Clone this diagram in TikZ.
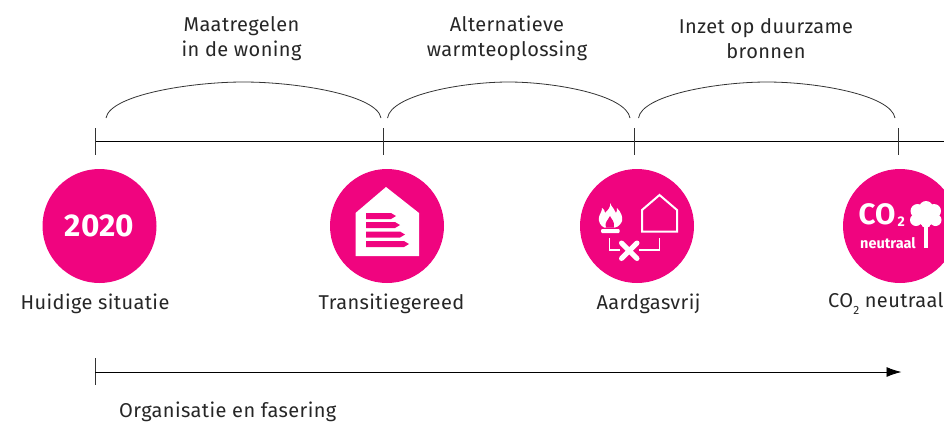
\documentclass[tikz,border=0pt]{standalone}
\usepackage{fontspec}
\setmainfont{Fira Sans}
\usetikzlibrary{arrows.meta}
\definecolor{roze}{HTML}{F0047F}
\tikzset{
  mijlpaal/.style={circle,fill=roze,minimum size=114pt,inner sep=0pt},
  tekst/.style={font=\fontsize{20}{25.5}\selectfont\addfontfeature{LetterSpace=2},text=black!85,align=center,inner sep=0pt},
  boog/.style={draw=black!80,line width=0.8pt},
  lijn/.style={draw=black,line width=0.9pt},
  icoon/.style={draw=white,line width=2pt},
}
\begin{document}
\begin{tikzpicture}[x=1pt,y=-1pt]
\useasboundingbox (0,0) rectangle (944,421);
\clip (0,0) rectangle (944,421);
% tijdlijn
\coordinate (t0a) at (95,128);
\coordinate (t0b) at (95,155);
\coordinate (t1a) at (383.5,128);
\coordinate (t1b) at (383.5,155);
\coordinate (t2a) at (634,128);
\coordinate (t2b) at (634,155);
\coordinate (t3a) at (898.5,128);
\coordinate (t3b) at (898.5,155);
\coordinate (t0) at (95,141);
\coordinate (teind) at (944,141);
\draw[lijn] (t0) -- (teind);
\draw[boog] (t0a) -- (t0b);
\draw[boog] (t1a) -- (t1b);
\draw[boog] (t2a) -- (t2b);
\draw[boog] (t3a) -- (t3b);
% bogen
\coordinate (b1a) at (106,118);
\coordinate (b1b) at (381,118);
\coordinate (b2a) at (387.5,118);
\coordinate (b2b) at (630,118);
\coordinate (b3a) at (638.5,118);
\coordinate (b3b) at (895,118);
\draw[boog] (b1a) .. controls (110,95) and (190,82) .. (243.5,82) .. controls (297,82) and (377,95) .. (b1b);
\draw[boog] (b2a) .. controls (391,95) and (462,82) .. (508.5,82) .. controls (555,82) and (626,95) .. (b2b);
\draw[boog] (b3a) .. controls (642,95) and (717,82) .. (767,82) .. controls (817,82) and (891,95) .. (b3b);
\node[tekst] (maatregelen) at (241.5,38.5) {Maatregelen\\in de woning};
\node[tekst] (warmte) at (507,38.5) {Alternatieve\\warmteoplossing};
\node[tekst] (inzet) at (766,38.5) {Inzet op duurzame\\bronnen};
% cirkels
\node[mijlpaal] (c2020) at (99.5,226) {};
\node[mijlpaal] (ctrans) at (387,226) {};
\node[mijlpaal] (cgas) at (637,226) {};
\node[mijlpaal] (cco) at (900,226) {};
\node[font=\fontsize{31.5}{31.5}\selectfont\bfseries,text=white,inner sep=0pt] (jaar) at (99.5,226) {2020};
% woning met labels
\fill[white] (386,187) -- (419,213) -- (419,256) -- (355.5,256) -- (355.5,213) -- cycle;
\fill[roze] (366,213) -- (391,213) -- (396,216) -- (391,219) -- (366,219) -- cycle;
\fill[roze] (366,222) -- (395,222) -- (400,225) -- (395,228) -- (366,228) -- cycle;
\fill[roze] (366,231.5) -- (400,231.5) -- (405,234.5) -- (400,237.5) -- (366,237.5) -- cycle;
\fill[roze] (366,241) -- (404,241) -- (409,244) -- (404,247) -- (366,247) -- cycle;
% aardgas
\draw[icoon] (642,231.5) -- (642,210) -- (659.5,195) -- (677,210) -- (677,231.5) -- cycle;
\fill[white] (610,203) .. controls (612,208) and (615,209) .. (616,213) .. controls (617,212) and (617,210) .. (617,208) .. controls (621,212) and (623,217) .. (622,221) .. controls (621,224) and (618,227) .. (615,227.5) -- (604,227.5) .. controls (601,226) and (598,222) .. (599,217) .. controls (600,213) and (602,212) .. (602,208) .. controls (604,209) and (605,211) .. (605,213) .. controls (608,210) and (611,207) .. (610,203) -- cycle;
\fill[roze] (610,216) .. controls (611,219) and (615,221) .. (614,227.5) -- (606,227.5) .. controls (604,223) and (608,220) .. (610,216) -- cycle;
\fill[white,rounded corners=1pt] (601,229) rectangle (619.5,233);
\draw[white,line width=1.3pt] (609.5,238) -- (609.5,250) -- (620,250);
\draw[white,line width=1.3pt] (659.5,238) -- (659.5,250) -- (639,250);
\draw[white,line width=5pt,line cap=round] (621.5,243) -- (637,258.5);
\draw[white,line width=5pt,line cap=round] (621.5,258.5) -- (637,243);
% co2
\node[font=\fontsize{29.5}{29.5}\selectfont\bfseries,text=white,inner sep=0pt,anchor=west] (co) at (858.5,214) {CO};
\node[font=\fontsize{14}{14}\selectfont\bfseries,text=white,inner sep=0pt,anchor=west] (cotwee) at (897.5,222) {2};
\node[font=\fontsize{14.5}{14.5}\selectfont\bfseries,text=white,inner sep=0pt,anchor=west] (neutraal) at (860,243) {neutraal};
\fill[white] (923.5,225) rectangle (927.5,247.5);
\fill[white] (926,208) circle (7);
\fill[white] (917.5,211) circle (7);
\fill[white] (934,211) circle (7);
\fill[white] (916,220) circle (6);
\fill[white] (935.5,220) circle (6);
\fill[white] (926,216) circle (10);
\fill[white] (926,223) circle (5);
% onderschriften
\node[tekst] (huidig) at (95,303.5) {Huidige situatie};
\node[tekst] (trans) at (391.5,303.5) {Transitiegereed};
\node[tekst] (gasvrij) at (648.5,303.5) {Aardgasvrij};
\node[tekst,anchor=west] (coneutraal) at (828,303.5) {CO\raisebox{-0.35em}{\fontsize{12}{12}\selectfont 2} neutraal};
% organisatie
\coordinate (o0a) at (95,358);
\coordinate (o0b) at (95,385);
\coordinate (o0) at (95,372);
\coordinate (oeind) at (901.5,372);
\draw[boog] (o0a) -- (o0b);
\draw[lijn,-{Latex[length=15pt,width=10pt]}] (o0) -- (oeind);
\node[tekst,anchor=west] (organisatie) at (119,412) {Organisatie en fasering};
\end{tikzpicture}
\end{document}
